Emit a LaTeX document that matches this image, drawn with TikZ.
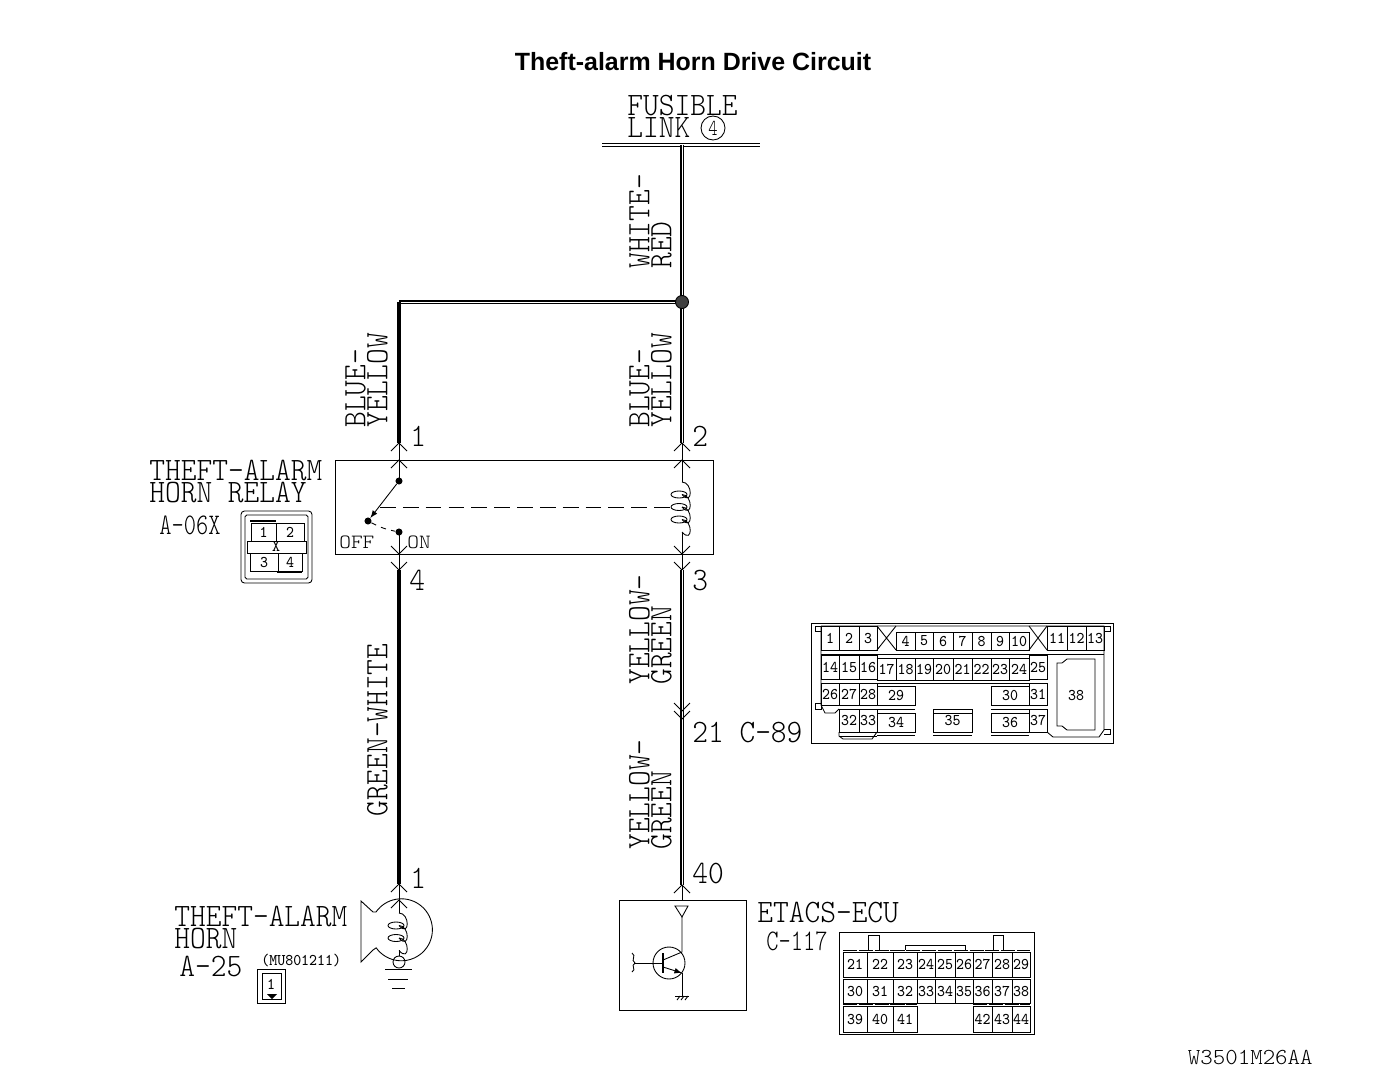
\documentclass[tikz,border=0pt]{standalone}
\usepackage{fontspec}
\usepackage{tikz}
\newfontfamily\titlefam{Liberation Sans}[BoldFont=Liberation Sans Bold]
\newfontfamily\bigfam[FakeStretch=0.917]{Latin Modern Mono Light}
\newfontfamily\midfam[FakeStretch=0.78]{Latin Modern Mono Light}
\newfontfamily\tagfam[FakeStretch=1.1]{Latin Modern Mono Light}
\newfontfamily\drawfam[FakeStretch=1.04]{Latin Modern Mono Light}
\newfontfamily\cellfam[FakeStretch=0.93]{Latin Modern Mono}
\newcommand{\bigfont}{\bigfam\fontsize{18.6}{12.5}\selectfont\lineskiplimit=-30pt}
\newcommand{\midfont}{\midfam\fontsize{17}{12}\selectfont}
\newcommand{\tagfont}{\tagfam\fontsize{11.5}{12}\selectfont}
\newcommand{\drawfont}{\drawfam\fontsize{13}{14}\selectfont}
\newcommand{\cellfont}{\cellfam\fontsize{9.3}{10}\selectfont}
\tikzset{
  x=0.02cm,y=-0.02cm,
  thinline/.style={line width=0.5pt},
  wiresolid/.style={line width=2.1pt},
  wiredouble/.style={line width=1pt,double,double distance=0.3pt},
  biglabel/.style={font=\bigfont,inner sep=0pt,align=left},
  midlabel/.style={font=\midfont,inner sep=0pt},
  taglabel/.style={font=\tagfont,inner sep=0pt},
  celllabel/.style={font=\cellfont,inner sep=0pt},
  contact/.style={circle,fill=black,inner sep=0pt,minimum size=4pt},
  lip/.style={thinline,dash pattern=on 8pt off 1pt},
}
% chevrons on the wires
\newcommand{\chevup}[1]{\draw[thinline] ([shift={(-8,8)}]#1) -- (#1) -- ([shift={(8,8)}]#1);}
\newcommand{\chevdown}[1]{\draw[thinline] ([shift={(-8,-8)}]#1) -- (#1) -- ([shift={(8,-8)}]#1);}
% coil: x, top y, number of turns
\newcommand{\coil}[3]{
  \foreach \i in {1,...,#3} {
    \draw[thinline] (#1,{#2+(\i-1)*12.5}) .. controls +(11,0) and +(11,12.5) .. +(0,12.5);
  }
  \foreach \i in {2,...,#3} {
    \draw[thinline] ({#1-3},{#2+(\i-1)*12.5}) ellipse [x radius=8,y radius=3.5];
  }
}
% a row of connector cells: top y, bottom y, {left/right/label,...}
\newcommand{\cellrow}[3]{
  \foreach \xa/\xb/\lbl in {#3} {
    \draw[thinline] (\xa,#1) rectangle (\xb,#2);
    \node[celllabel] at ({(\xa+\xb)/2},{(#1+#2)/2}) {\lbl};
  }
}
\begin{document}
\begin{tikzpicture}
\useasboundingbox (0,0) rectangle (1376,1082);
\node[inner sep=0pt,font=\titlefam\bfseries\fontsize{14.2}{16}\selectfont] (title) at (693,62) {Theft-alarm Horn Drive Circuit};
% wiring points
\coordinate (barL) at (602,145);
\coordinate (barR) at (760,145);
\coordinate (feed) at (682,145);
\coordinate (junc) at (682,302);
\coordinate (corner) at (399,302);
\coordinate (pinA) at (399,443);
\coordinate (pinAb) at (399,460);
\coordinate (pinB) at (682,443);
\coordinate (pinBb) at (682,460);
\coordinate (armTop) at (399,481);
\coordinate (armEnd) at (368,521);
\coordinate (onPin) at (399,532);
\coordinate (pinC) at (399,554);
\coordinate (pinCb) at (399,570);
\coordinate (pinD) at (682,554);
\coordinate (pinDb) at (682,570);
\coordinate (coilTop) at (682,482);
\coordinate (coilEnd) at (682,532);
\coordinate (splice) at (682,719);
\coordinate (spliceb) at (682,711);
\coordinate (ecuPin) at (682,885);
\coordinate (ecuTop) at (682,900);
\coordinate (hornPin) at (399,884);
\coordinate (hornPinb) at (399,900);
\coordinate (hornCoil) at (399,913);
\coordinate (hornEnd) at (399,950);
% fusible link
\node[biglabel,anchor=south west] (fuselbl) at (627,138) {FUSIBLE\\LINK};
\node[draw,circle,thinline,minimum size=24pt*0.569,inner sep=0pt,font=\midfam\fontsize{13}{14}\selectfont] (fusenum) at (713,128) {4};
\draw[wiredouble,line width=0.7pt,double distance=0.6pt] (barL) -- (barR);
\draw[wiredouble] (feed) -- (junc);
\draw[wiredouble] (corner) -- (junc);
\draw[wiresolid] (corner) -- (pinA);
\draw[wiredouble] (junc) -- (pinB);
\fill[black!75] (junc) circle (6.5);
\draw[thinline] (junc) circle (6.5);
\node[biglabel,rotate=90,anchor=south west] (lblfeed) at (672,269) {WHITE-\\RED};
\node[biglabel,rotate=90,anchor=south west] (lblblueL) at (388,428) {BLUE-\\YELLOW};
\node[biglabel,rotate=90,anchor=south west] (lblblueR) at (672,428) {BLUE-\\YELLOW};
% relay
\draw[thinline] (335,460) rectangle (713,554);
\node[biglabel,anchor=base west] (num1) at (410,446) {1};
\node[biglabel,anchor=base west] (num2) at (692,446) {2};
\node[biglabel,anchor=base west] (num4) at (409,590) {4};
\node[biglabel,anchor=base west] (num3) at (692,590) {3};
\node[biglabel,anchor=south west] (relaylbl) at (149,503) {THEFT-ALARM\\HORN RELAY};
\node[midlabel,anchor=base west] (relaynum) at (159,534) {A-06X};
\node[taglabel,anchor=base west] (offlbl) at (339,548) {OFF};
\node[taglabel,anchor=base west] (onlbl) at (407,548) {ON};
\draw[thinline] (pinA) -- (armTop);
\draw[thinline] (pinB) -- (coilTop);
\draw[thinline] (onPin) -- (pinCb);
\draw[thinline] (coilEnd) -- (pinDb);
\chevup{pinA}\chevup{pinAb}\chevup{pinB}\chevup{pinBb}
\chevdown{pinC}\chevdown{pinCb}\chevdown{pinD}\chevdown{pinDb}
\node[contact] (armdotA) at (armTop) {};
\node[contact] (armdotB) at (armEnd) {};
\node[contact] (armdotC) at (onPin) {};
\draw[thinline,-latex] (armdotA) -- (armdotB);
\draw[thinline,dashed] (armdotB) to[bend right=8] (armdotC);
\draw[thinline,dash pattern=on 9pt off 4pt] (380,507) -- (672,507);
\coil{682}{482}{4}
% relay connector
\draw[thinline,rounded corners=2pt] (241,511) rectangle (312,583);
\draw[thinline,rounded corners=1pt] (245,515) rectangle (308,579);
\cellrow{523}{542}{251/276/1,276/304/2}
\cellrow{553}{571}{250/278/3,278/302/4}
\draw[thinline,fill=white] (247,541) rectangle (306,553);
\node[celllabel] (relayx) at (276,547) {X};
\draw[line width=1.2pt] (250,521) -- (276,521);
\draw[line width=1.2pt] (277,572) -- (302,572);
% lower wires
\draw[wiresolid] (pinCb) -- (hornPin);
\draw[wiredouble] (pinDb) -- (ecuPin);
\draw[thinline] (hornPin) -- (hornCoil);
\draw[thinline] (ecuPin) -- (ecuTop);
\chevdown{spliceb}\chevdown{splice}
\chevup{ecuPin}
\chevup{hornPin}\chevup{hornPinb}
\node[biglabel,rotate=90,anchor=south west] (lblgreen) at (388,817) {GREEN-WHITE};
\node[biglabel,rotate=90,anchor=south west] (lblyelA) at (672,685) {YELLOW-\\GREEN};
\node[biglabel,rotate=90,anchor=south west] (lblyelB) at (672,850) {YELLOW-\\GREEN};
\node[biglabel,anchor=base west] (c89lbl) at (692,742) {21 C-89};
\node[biglabel,anchor=base west] (num40) at (692,883) {40};
\node[biglabel,anchor=base west] (num1b) at (410,888) {1};
% connector C-89
\draw[thinline] (811,623) rectangle (1113,743);
\draw[thinline] (821,626) -- (1104,626) -- (1104,730) -- (1099,737) -- (1053,737) -- (1047,732);
\draw[thinline] (821,626) -- (821,705) -- (825,713) -- (835,713) -- (839,709);
\draw[thinline] (839,732) -- (839,736) -- (843,739) -- (872,739) -- (877,732);
\draw[thinline] (815,626) rectangle (821,631);
\draw[thinline] (815,703) rectangle (821,709);
\draw[thinline] (1104,626) -- (1110,626) -- (1110,631) -- (1104,631);
\draw[thinline] (1104,729) -- (1110,729) -- (1110,734) -- (1104,734);
\cellrow{626}{650}{821/839/1,839/859/2,859/877/3,1047/1067/11,1067/1086/12,1086/1104/13}
\cellrow{632}{650}{896/915/4,915/933/5,933/953/6,953/972/7,972/991/8,991/1009/9,1009/1029/10}
\cellrow{655}{679}{821/839/14,839/859/15,859/877/16,1029/1047/25}
\cellrow{658}{680}{877/896/17,896/915/18,915/933/19,933/953/20,953/972/21,972/991/22,991/1009/23,1009/1029/24}
\cellrow{683}{705}{821/839/26,839/859/27,859/877/28,1029/1047/31}
\cellrow{686}{705}{877/915/29,991/1029/30}
\cellrow{709}{732}{839/859/32,859/877/33,933/972/35,1029/1047/37}
\cellrow{713}{732}{877/915/34,991/1029/36}
\draw[thinline] (877,626) -- (896,650) (896,626) -- (877,650);
\draw[thinline] (1029,626) -- (1047,650) (1047,626) -- (1029,650);
\draw[thinline] (821,654) -- (1104,654);
\draw[thinline] (821,683) -- (1047,683) (877,709) -- (915,709) (991,709) -- (1047,709);
\draw[thinline] (933,713) -- (972,713);
\draw[thinline] (839,736) -- (877,736);
\draw[thinline] (877,735) -- (915,735) (933,735) -- (972,735) (991,735) -- (1029,735);
\draw[thinline] (1057,663) -- (1062,663) -- (1067,659) -- (1095,659) -- (1095,730) -- (1067,730) -- (1062,726) -- (1057,726) -- cycle;
\node[celllabel] (cell38) at (1076,695) {38};
% horn
\draw[thinline] (376,912) -- (373,912) -- (361,901) -- (361,962) -- (373,950) -- (376,948);
\draw[thinline] (376,912) arc (-145:145:31);
\coil{399}{913}{3}
\draw[thinline] (399,950) -- (399,956);
\draw[thinline] (399,962) circle (6);
\draw[thinline] (385,969) -- (412,969) (388,979) -- (408,979) (392,988) -- (405,988);
\node[biglabel,anchor=south west] (hornlbl) at (174,949) {THEFT-ALARM\\HORN};
\node[biglabel,anchor=base west] (hornnum) at (179,976) {A-25};
\node[celllabel,anchor=base west] (hornpart) at (261,965) {(MU801211)};
\draw[thinline] (257,969) rectangle (285,1003);
\draw[thinline] (262,973) rectangle (281,999);
\node[celllabel] (horncell) at (271,984) {1};
\fill (267,994) -- (277,994) -- (272,999) -- cycle;
% ECU box
\draw[thinline] (619,900) rectangle (746,1010);
\draw[thinline] (675,906) -- (688,906) -- (682,917) -- cycle;
\draw[thinline] (682,917) -- (682,952) -- (663,960);
\draw[thinline] (669,963) circle (16);
\draw[line width=0.8pt] (663,953) -- (663,973);
\draw[thinline] (635,963) -- (663,963);
\draw[thinline] (632,953) .. controls (637,956) and (630,960) .. (635,963) .. controls (630,966) and (637,969) .. (632,972);
\draw[thinline,-latex] (663,967) -- (682,973);
\draw[thinline] (682,973) -- (682,996);
\draw[thinline] (675,996) -- (689,996);
\draw[thinline] (677,1000) -- (680,996) (681,1000) -- (684,996) (685,1000) -- (688,996);
\node[biglabel,anchor=base west] (ecunm) at (757,922) {ETACS-ECU};
\node[midlabel,anchor=base west] (ecunum) at (766,950) {C-117};
% connector C-117
\draw[thinline] (839,932) rectangle (1034,1034);
\draw[thinline] (868,950) -- (868,935) -- (879,935) -- (879,950);
\draw[thinline] (993,950) -- (993,935) -- (1003,935) -- (1003,950);
\draw[thinline] (905,950) -- (905,945) -- (965,945) -- (965,950);
\cellrow{952}{977}{843/867/21,867/893/22,893/917/23,917/935/24,935/955/25,955/973/26,973/992/27,992/1012/28,1012/1030/29}
\cellrow{979}{1003}{843/867/30,867/893/31,893/917/32,917/935/33,935/955/34,955/973/35,973/992/36,992/1012/37,1012/1030/38}
\cellrow{1006}{1032}{843/867/39,867/893/40,893/917/41,973/992/42,992/1012/43,1012/1030/44}
\draw[lip] (843,950) -- (1030,950);
\draw[lip] (843,977.5) -- (1030,977.5);
\draw[lip] (843,1004.5) -- (917,1004.5) (973,1004.5) -- (1030,1004.5);
\node[font=\drawfont,inner sep=0pt,anchor=base east] (drawingno) at (1313,1064) {W3501M26AA};
\end{tikzpicture}
\end{document}
